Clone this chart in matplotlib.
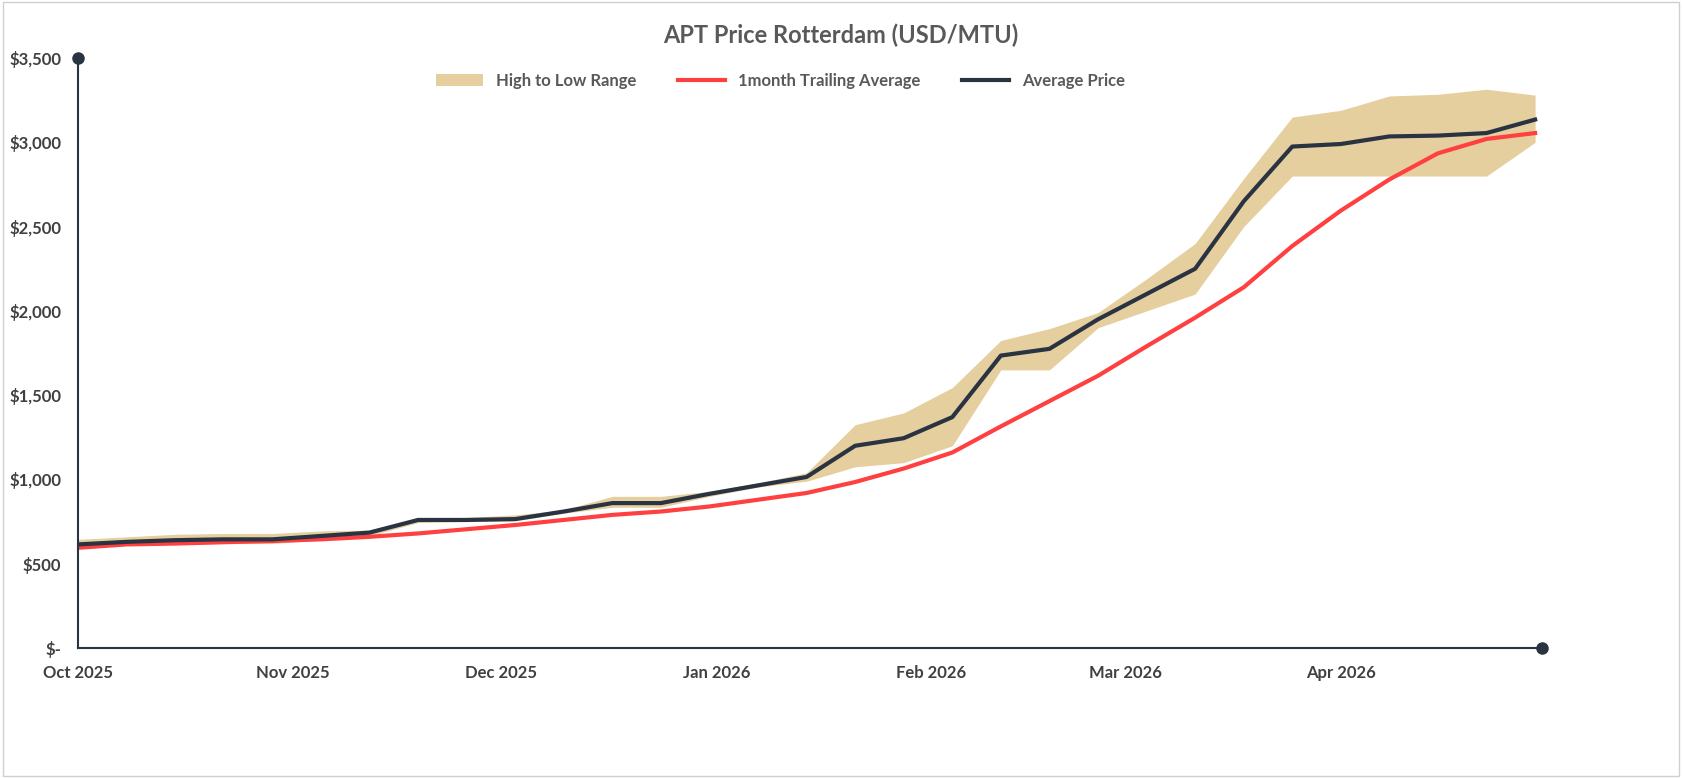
import numpy as np
import pandas as pd
import matplotlib
matplotlib.use("Agg")
import matplotlib.pyplot as plt
from matplotlib.ticker import FuncFormatter

plt.rcParams['font.family'] = ['Lato', 'DejaVu Sans']

dates = pd.date_range("2025-10-01", periods=31, freq="7D")
avg_price = [615, 630, 640, 645, 645, 665, 685, 760, 760, 765, 810, 860, 860, 915, 965, 1015,
             1200, 1245, 1370, 1735, 1775, 1950, 2100, 2250, 2650, 2975, 2990, 3035, 3040, 3055, 3135]
trailing = [595, 615, 620, 628, 635, 645, 660, 680, 705, 730, 760, 790, 810, 840, 880, 920,
            985, 1065, 1160, 1315, 1465, 1615, 1790, 1960, 2140, 2385, 2595, 2780, 2935, 3020, 3055]
high = [645, 660, 675, 680, 680, 695, 700, 770, 775, 790, 820, 900, 900, 930, 980, 1040,
        1325, 1395, 1545, 1825, 1895, 1990, 2190, 2400, 2785, 3150, 3190, 3275, 3285, 3315, 3280]
low = [590, 610, 615, 620, 620, 640, 665, 745, 750, 755, 800, 835, 835, 900, 955, 990,
       1075, 1100, 1200, 1650, 1650, 1900, 2000, 2100, 2500, 2800, 2800, 2800, 2800, 2800, 3000]
month_ticks = pd.to_datetime(["2025-10-01", "2025-11-01", "2025-12-01", "2026-01-01",
                              "2026-02-01", "2026-03-01", "2026-04-01"])
month_labels = ["Oct 2025", "Nov 2025", "Dec 2025", "Jan 2026", "Feb 2026", "Mar 2026", "Apr 2026"]

start = dates[0]
x = (dates - start).days.values
xt = (month_ticks - start).days.values

fig = plt.figure(figsize=(16.82, 7.78), dpi=100)
fig.patches.append(plt.Rectangle((0.0015, 0.002), 0.997, 0.996, transform=fig.transFigure,
                                 fill=False, edgecolor='#d0d0d0', linewidth=1))
ax = fig.add_axes([0.0464, 0.167, 0.8704, 0.7584])

navy = '#2a3342'
ax.fill_between(x, low, high, color='#e6cf9e', linewidth=0, label='High to Low Range')
ax.plot(x, trailing, color='#ff4040', linewidth=3, label='1month Trailing Average')
ax.plot(x, avg_price, color=navy, linewidth=3, label='Average Price')

ax.set_xlim(0, 211)
ax.set_ylim(0, 3500)
ax.set_xticks(xt)
ax.set_xticklabels(month_labels)
ax.set_yticks(np.arange(0, 3501, 500))
ax.yaxis.set_major_formatter(FuncFormatter(lambda v, p: "$-" if v == 0 else f"${v:,.0f}"))
for s in ['top', 'right']:
    ax.spines[s].set_visible(False)
for s in ['left', 'bottom']:
    ax.spines[s].set_color(navy)
    ax.spines[s].set_linewidth(1.5)
ax.plot([0], [3500], 'o', color=navy, markersize=8, clip_on=False)
ax.plot([211], [0], 'o', color=navy, markersize=8, clip_on=False)
ax.tick_params(length=0, labelsize=12, labelcolor='#404040', pad=12)
for lab in ax.get_xticklabels() + ax.get_yticklabels():
    lab.set_fontweight('bold')

fig.suptitle("APT Price Rotterdam (USD/MTU)", y=0.97, fontsize=17, fontweight='bold', color='#595959')
ax.legend(loc='upper center', bbox_to_anchor=(0.48, 1.0), ncol=3, frameon=False,
          prop={'size': 12, 'weight': 'bold'}, labelcolor='#595959', handlelength=2.8, columnspacing=2.5)

fig.savefig("out.png", dpi=100)
